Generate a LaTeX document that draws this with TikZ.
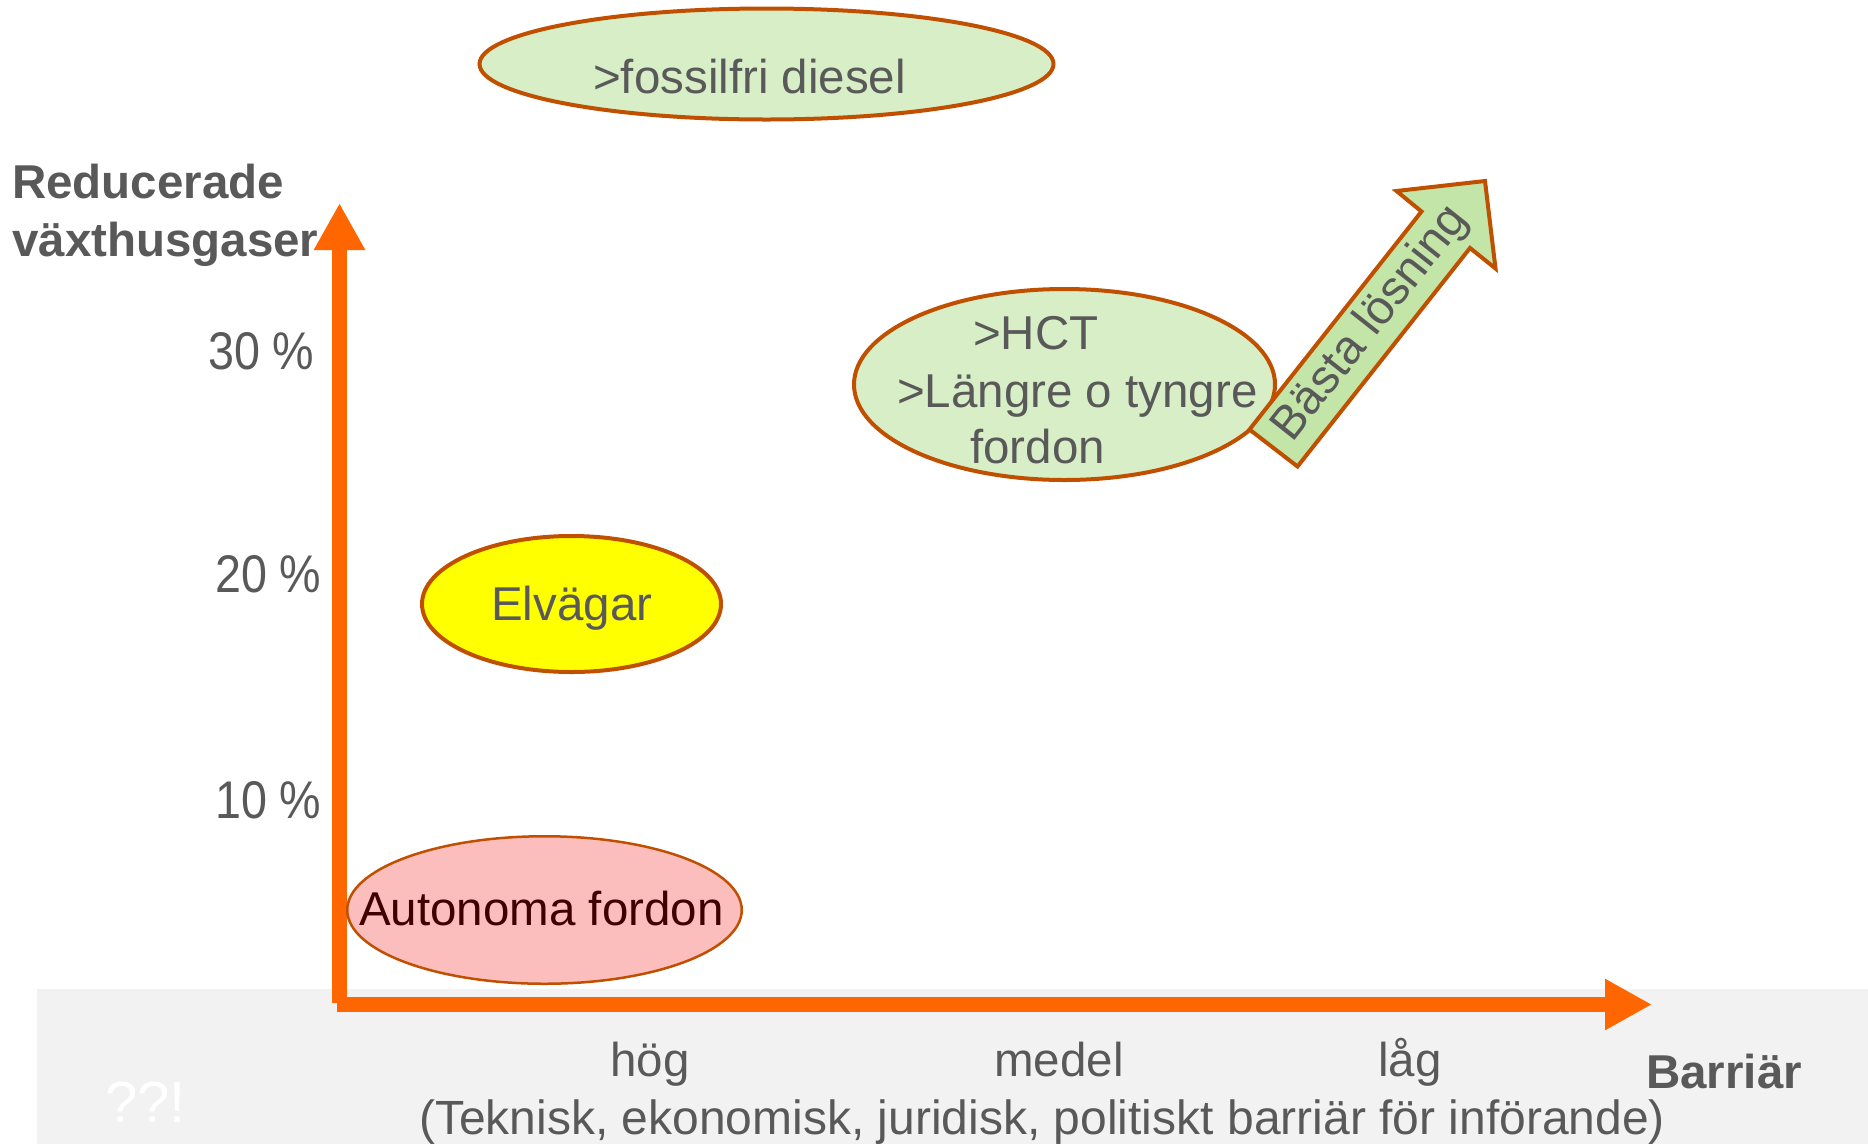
\documentclass[tikz,border=0pt]{standalone}
\usepackage{fontspec}
\setmainfont{Liberation Sans}
\newfontfamily\tickfont{Liberation Sans}[FakeStretch=0.88]
\usetikzlibrary{shapes.geometric,arrows.meta}
\definecolor{axisorange}{HTML}{FF6600}
\definecolor{edgebrown}{HTML}{C05000}
\definecolor{palegreen}{HTML}{D7EEC6}
\definecolor{arrowgreen}{HTML}{C3E5A8}
\definecolor{pinkfill}{HTML}{FCBDBD}
\definecolor{textgray}{HTML}{595959}
\definecolor{bggray}{HTML}{F2F2F2}
\definecolor{darkred}{HTML}{400000}
\definecolor{brightyellow}{HTML}{FFFF00}
\begin{document}
\begin{tikzpicture}[x=1pt,y=-1pt,
  blob/.style={ellipse, draw=edgebrown, inner sep=0pt},
  lbl/.style={anchor=base west, inner sep=0pt, text=textgray, font=\fontsize{47.5}{57}\selectfont},
  clbl/.style={lbl, anchor=base},
  tlbl/.style={lbl, font=\fontsize{53}{60}\tickfont},
  blbl/.style={lbl, font=\fontsize{47.5}{57}\selectfont\bfseries},
  axisline/.style={draw=axisorange, line width=15pt, -{Triangle[length=47pt,width=48pt]}}
]
\useasboundingbox (0,0) rectangle (1868,1144);
\fill[bggray] (37,989) rectangle (1868,1144);

% axes
\coordinate (ybot) at (339.5,1003);
\coordinate (ytop) at (339.5,203);
\coordinate (xbeg) at (337,1004.5);
\coordinate (xend) at (1652,1004.5);
\draw[axisline] (ybot) -- (ytop);
\draw[axisline] (xbeg) -- (xend);

% ellipses
\node[blob, fill=palegreen, line width=4pt, minimum width=574pt, minimum height=111pt] (fossil) at (766.5,64) {};
\node[blob, fill=palegreen, line width=4pt, minimum width=421pt, minimum height=191pt] (hct) at (1064.5,384.5) {};
\node[blob, fill=brightyellow, line width=4pt, minimum width=299pt, minimum height=136pt] (elv) at (571.5,604) {};
\node[blob, fill=pinkfill, line width=2.5pt, minimum width=394.5pt, minimum height=147.5pt] (auto) at (544.5,910) {};

% best solution arrow
\filldraw[fill=arrowgreen, draw=edgebrown, line width=4pt, line join=miter]
  (1249.5,429.5) -- (1421.5,211.5) -- (1396.5,191) -- (1485,181) -- (1495.5,268.5) -- (1470,248) -- (1297.5,466.5) -- cycle;
\node[inner sep=0pt, text=textgray, font=\fontsize{47.5}{57}\selectfont, rotate=51.7] (best) at (1371,324) {Bästa lösning};

% texts
\node[lbl] (tfossil) at (593,93) {>fossilfri diesel};
\node[lbl] (thct1) at (973,349) {>HCT};
\node[lbl] (thct2) at (897,407) {>Längre o tyngre};
\node[lbl] (thct3) at (970,463) {fordon};
\node[lbl] (telv) at (491,620) {Elvägar};
\node[lbl, text=darkred] (tauto) at (359,925) {Autonoma fordon};

\node[tlbl] (t30) at (208,369) {30 \%};
\node[tlbl] (t20) at (215,592) {20 \%};
\node[tlbl] (t10) at (215,818) {10 \%};

\node[blbl] (ylab1) at (12,198) {Reducerade};
\node[blbl] (ylab2) at (12,256) {växthusgaser};

\node[clbl] (thog) at (650,1076) {hög};
\node[clbl] (tmed) at (1059,1076) {medel};
\node[clbl] (tlag) at (1410,1076) {låg};
\node[lbl, font=\fontsize{48}{57}\selectfont] (tbar) at (419,1134) {(Teknisk, ekonomisk, juridisk, politiskt barriär för införande)};
\node[blbl] (xlab) at (1646,1088) {Barriär};
\node[lbl, text=white, font=\fontsize{58}{66}\selectfont] (qq) at (105,1122) {??!};
\end{tikzpicture}
\end{document}
